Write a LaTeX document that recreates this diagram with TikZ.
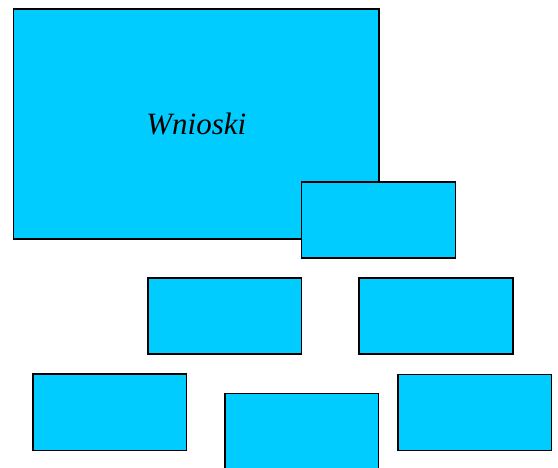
\documentclass[tikz,border=0pt]{standalone}
\usepackage{fontspec}
\setmainfont{Liberation Serif}
\begin{document}
\begin{tikzpicture}[x=1pt,y=-1pt,
  box/.style={draw=black,fill=cyanfill,line width=1.5pt}]
\definecolor{cyanfill}{HTML}{00CCFF}
\useasboundingbox (0,0) rectangle (558,468);
\path[box] (13.5,9) rectangle (379,239) coordinate (bigbr);
\node (big) at (196.25,124) {\fontsize{31}{36}\selectfont\itshape Wnioski};
\path[box] (301.5,182) rectangle (455.5,258);
\path[box] (148,278) rectangle (301.5,354);
\path[box] (359,278) rectangle (513,354);
\path[box] (33,374) rectangle (186.5,450.5);
\path[box] (225,393.5) rectangle (378.5,475);
\path[box] (398,374.5) rectangle (551.5,450.5);
\end{tikzpicture}
\end{document}
